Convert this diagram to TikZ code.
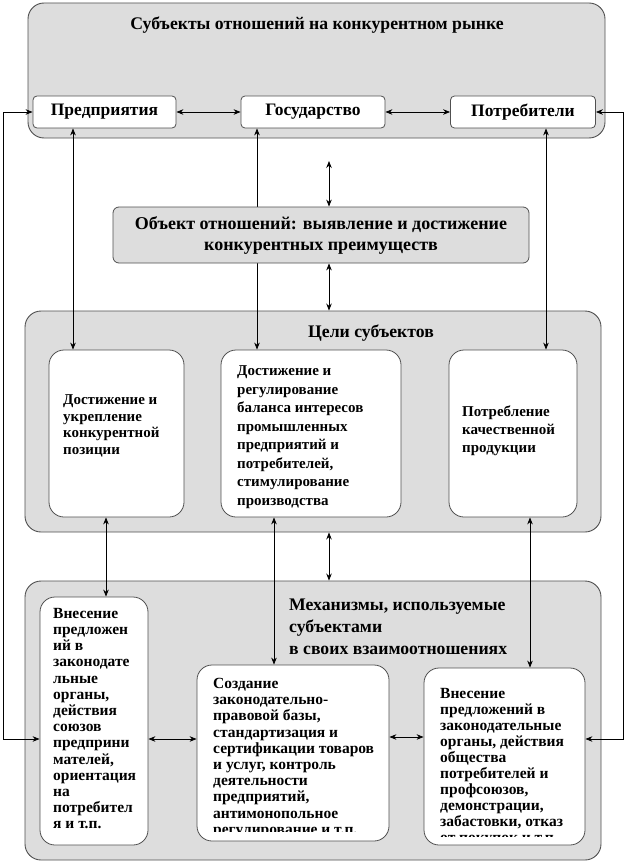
\documentclass[tikz,border=0pt]{standalone}
\usepackage{fontspec}
\setmainfont{Liberation Serif}
\usetikzlibrary{arrows.meta}
\pgfdeclarelayer{bg}
\pgfdeclarelayer{mid}
\pgfsetlayers{bg,mid,main}
\definecolor{panel}{HTML}{DDDDDD}
\definecolor{edge}{HTML}{505050}
\tikzset{
  cont/.style={draw=edge, fill=panel, rounded corners=16pt, line width=0.9pt, inner sep=0pt},
  subj/.style={draw=edge, fill=white, rounded corners=4pt, line width=0.8pt, inner sep=0pt,
    font=\fontsize{17.5}{20}\selectfont\bfseries},
  objbox/.style={draw=edge, fill=panel, rounded corners=6pt, line width=0.8pt, inner sep=0pt,
    align=center, font=\fontsize{18}{21}\selectfont\bfseries},
  ibox/.style={draw=edge, fill=white, rounded corners=15pt, line width=0.8pt, inner sep=0pt},
  ttl/.style={inner sep=0pt, font=\fontsize{17.7}{22}\selectfont\bfseries},
  gtxt/.style={inner sep=0pt, align=left, anchor=west, font=\fontsize{15}{18.5}\selectfont\bfseries},
  mtxt/.style={inner sep=0pt, align=left, anchor=north west, font=\fontsize{15.5}{16.2}\selectfont\bfseries},
  conn/.style={draw=black, line width=0.8pt, {Stealth[length=7pt,width=5.5pt]}-{Stealth[length=7pt,width=5.5pt]}}
}
\begin{document}
\begin{tikzpicture}[x=1pt,y=-1pt]
\useasboundingbox (0,0) rectangle (626,864);
\begin{pgfonlayer}{bg}
\node[cont, minimum width=577pt, minimum height=135pt] (top) at (316.5,70.5) {};
\node[cont, minimum width=576pt, minimum height=221pt] (goals) at (313,421.5) {};
\node[cont, minimum width=576pt, minimum height=279pt] (mech) at (313,720.5) {};
\end{pgfonlayer}
% titles
\node[ttl] (toptitle) at (317,25) {Субъекты отношений на конкурентном рынке};
\node[ttl] (goaltitle) at (371,333) {Цели субъектов};
\node[ttl, anchor=north west, align=left] (mechtitle) at (289,599)
  {Механизмы, используемые\\субъектами\\в своих взаимоотношениях};
% subjects
\node[subj, minimum width=143pt, minimum height=32pt] (p1) at (104.5,112) {Предприятия};
\node[subj, minimum width=144pt, minimum height=32pt] (p2) at (313,112) {Государство};
\node[subj, minimum width=145pt, minimum height=32pt] (p3) at (523,112) {Потребители};
% object
\node[objbox, minimum width=416pt, minimum height=56pt] (obj) at (321,235)
  {Объект отношений: выявление и достижение\\конкурентных преимуществ};
% goals
\node[ibox, minimum width=135pt, minimum height=167pt] (g1) at (116.5,433.5) {};
\node[ibox, minimum width=180pt, minimum height=167pt] (g2) at (311,433.5) {};
\node[ibox, minimum width=128pt, minimum height=167pt] (g3) at (513,433.5) {};
\node[gtxt, font=\fontsize{15}{16.5}\selectfont\bfseries] (g1t) at (63,426)
  {Достижение и\\укрепление\\конкурентной\\позиции};
\node[gtxt] (g2t) at (237,437)
  {Достижение и\\регулирование\\баланса интересов\\промышленных\\предприятий и\\потребителей,\\стимулирование\\производства};
\node[gtxt, font=\fontsize{15}{18}\selectfont\bfseries] (g3t) at (462,431)
  {Потребление\\качественной\\продукции};
% mechanisms
\node[ibox, minimum width=108pt, minimum height=248pt] (m1) at (94,721) {};
\node[ibox, minimum width=192pt, minimum height=176pt] (m2) at (293,753) {};
\node[ibox, minimum width=161pt, minimum height=177pt] (m3) at (504.5,756.5) {};
\node[mtxt] (m1t) at (53,608)
  {Внесение\\предложен\\ий в\\законодате\\льные\\органы,\\действия\\союзов\\предприни\\мателей,\\ориентация\\на\\потребител\\я и т.п.};
\begin{scope}
\clip (197,665) rectangle (389,831);
\node[mtxt] (m2t) at (213,678)
  {Создание\\законодательно-\\правовой базы,\\стандартизация и\\сертификации товаров\\и услуг, контроль\\деятельности\\предприятий,\\антимонопольное\\регулирование и т.п.};
\end{scope}
\begin{scope}
\clip (424,668) rectangle (585,836);
\node[mtxt, font=\fontsize{15.5}{16}\selectfont\bfseries] (m3t) at (440,688)
  {Внесение\\предложений в\\законодательные\\органы, действия\\общества\\потребителей и\\профсоюзов,\\демонстрации,\\забастовки, отказ\\от покупок и т.п.};
\end{scope}
% helper coordinates
\coordinate (xa) at (73,0);
\coordinate (xb) at (257,0);
\coordinate (xc) at (546,0);
\coordinate (xm) at (329,0);
\coordinate (xd) at (106,0);
\coordinate (xe) at (274,0);
\coordinate (xf) at (530,0);
\coordinate (lt) at (3,112);
\coordinate (lb) at (3,739);
\coordinate (rt) at (623,112);
\coordinate (rb) at (623,739);
\coordinate (oa) at (329,161);
\coordinate (mb) at (0,737);
\begin{pgfonlayer}{mid}
\draw[conn] (p1.east) -- (p2.west);
\draw[conn] (p2.east) -- (p3.west);
\draw[conn] (p1.west) -- (lt) -- (lb) -- (lb -| m1.west);
\draw[conn] (p3.east) -- (rt) -- (rb) -- (rb -| m3.east);
\draw[conn] (p1.south -| xa) -- (g1.north -| xa);
\draw[conn] (p2.south -| xb) -- (g2.north -| xb);
\draw[conn] (p3.south -| xc) -- (g3.north -| xc);
\draw[conn] (oa) -- (obj.north -| oa);
\draw[conn] (obj.south -| xm) -- (goals.north -| xm);
\draw[conn] (goals.south -| xm) -- (mech.north -| xm);
\draw[conn] (g1.south -| xd) -- (m1.north -| xd);
\draw[conn] (g2.south -| xe) -- (m2.north -| xe);
\draw[conn] (g3.south -| xf) -- (m3.north -| xf);
\draw[conn] (m1.east |- lb) -- (m2.west |- lb);
\draw[conn] (m2.east |- mb) -- (m3.west |- mb);
\end{pgfonlayer}
\end{tikzpicture}
\end{document}
